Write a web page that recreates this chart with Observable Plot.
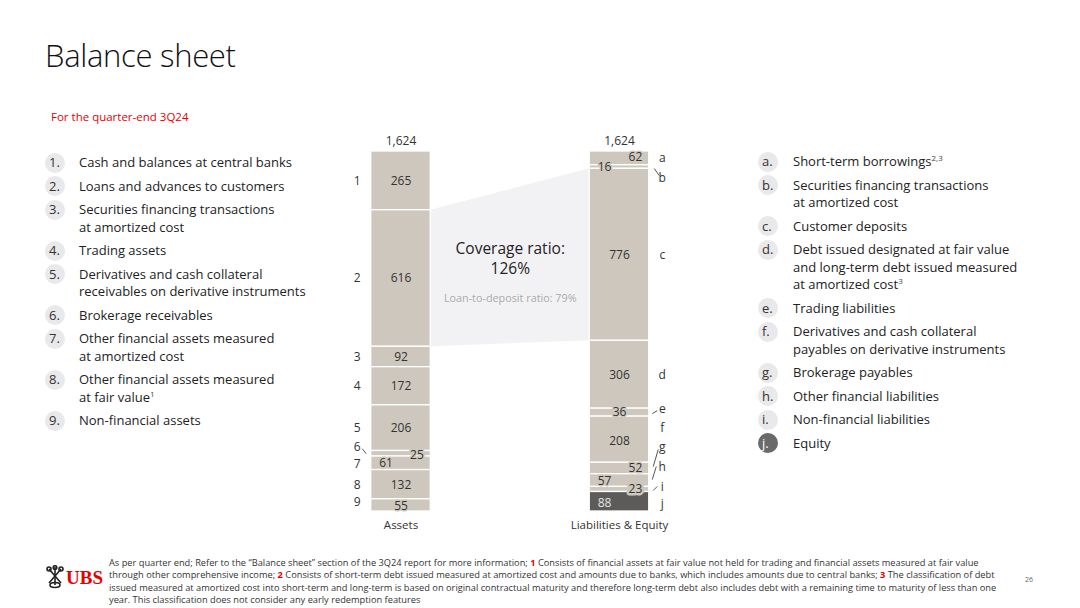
<!DOCTYPE html>
<html>
<head>
<meta charset="utf-8">
<script src="https://cdn.jsdelivr.net/npm/d3@7"></script>
<script src="https://cdn.jsdelivr.net/npm/@observablehq/plot@0.6"></script>
<style>
  html, body { margin: 0; padding: 0; background: #fff; }
  body { width: 1080px; height: 608px; position: relative; overflow: hidden; font-family: "Open Sans", "Noto Sans", sans-serif; color: #222; }
  #title { position: absolute; left: 45px; top: 34px; font-size: 31px; font-weight: 300; color: #111; letter-spacing: -0.3px; }
  #subtitle { position: absolute; left: 51px; top: 109px; font-size: 11.5px; color: #e60000; }
  #chart { position: absolute; left: 325px; top: 128px; }
  .legend { position: absolute; font-size: 13px; line-height: 17.5px; color: #222; }
  .legend .item { position: relative; padding-left: 0; margin-bottom: 6px; }
  .legend .badge { position: absolute; top: -1.5px; width: 20px; height: 20px; border-radius: 50%; background: #e9e8ea; }
  .legend .btxt { position: absolute; top: 0; color: #333; }
  .legend .badge.dark { background: #6a6a6a; }
  .legend .btxt.dark { color: #fff; }
  sup { font-size: 8px; line-height: 0; vertical-align: 5px; color: #444; }
  #footer { position: absolute; left: 109px; top: 557px; font-size: 9.28px; line-height: 12.4px; color: #333; white-space: nowrap; }
  #footer b { color: #e60000; }
  #logo { position: absolute; left: 45px; top: 565px; }
  #page { position: absolute; left: 1025px; top: 575px; font-size: 7px; color: #666; }
</style>
</head>
<body>
<div id="title">Balance sheet</div>
<div id="subtitle">For the quarter-end 3Q24</div>
<div id="legendLeft" class="legend"></div>
<div id="legendRight" class="legend"></div>
<div id="chart"></div>
<div id="logo"></div>
<div id="footer"></div>
<div id="page">26</div>
<script>
// ---------- data ----------
const assetIds = ["1", "2", "3", "4", "5", "6", "7", "8", "9"];
const assetValues = [265, 616, 92, 172, 206, 25, 61, 132, 55];
const assetNames = [
  ["Cash and balances at central banks"],
  ["Loans and advances to customers"],
  ["Securities financing transactions", "at amortized cost"],
  ["Trading assets"],
  ["Derivatives and cash collateral", "receivables on derivative instruments"],
  ["Brokerage receivables"],
  ["Other financial assets measured", "at amortized cost"],
  ["Other financial assets measured", "at fair value<sup>1</sup>"],
  ["Non-financial assets"]
];
const liabIds = ["a", "b", "c", "d", "e", "f", "g", "h", "i", "j"];
const liabValues = [62, 16, 776, 306, 36, 208, 52, 57, 23, 88];
const liabNames = [
  ["Short-term borrowings<sup>2,3</sup>"],
  ["Securities financing transactions", "at amortized cost"],
  ["Customer deposits"],
  ["Debt issued designated at fair value", "and long-term debt issued measured", "at amortized cost<sup>3</sup>"],
  ["Trading liabilities"],
  ["Derivatives and cash collateral", "payables on derivative instruments"],
  ["Brokerage payables"],
  ["Other financial liabilities"],
  ["Non-financial liabilities"],
  ["Equity"]
];
const columns = ["Assets", "Liabilities & Equity"];
const totalLabels = ["1,624", "1,624"];
const coverageTitle = "Coverage ratio:";
const coverageValue = "126%";
const loanToDeposit = "Loan-to-deposit ratio: 79%";
const loanItem = "2";      // loans (asset side) linked to
const depositItem = "c";   // customer deposits (liability side)
const equityItem = "j";

// ---------- styles / layout ----------
const barColor = "#cdc7bd";
const equityColor = "#5c5b59";
const areaColor = "#f2f2f5";
const textColor = "#333";
const W = 370, H = 412;
const colStepPx = 218.5, colCenterPx = 75.5, halfBarPx = 29.75;
const yTopPx = 23, yBotPx = 383;
const hw = halfBarPx / colStepPx;

// per-segment label tweaks (pixels)
const assetValAnchor = ["middle","middle","middle","middle","middle","end","start","middle","middle"];
const assetValDy = [0,0,0,0,0,1,0,0,1];
const assetIdDy = [0,0,0,0,0,-7,1,0,-3];
const liabValAnchor = ["end","start","middle","middle","middle","middle","end","start","end","start"];
const liabValDy = [-1,0,0,0,0,1,0,1,0,1];
const liabIdDy = [0,11,0,0,-3,-12,-21,-13,-2,2];
// leader ticks: [dx1, dy1, dx2, dy2] px relative to bar edge / segment middle
const assetLeaders = {"6": [-9, -5, -5, 0]};
const liabLeaders = {"b": [5, 1.5, 10, 8.5], "e": [3, 1, 8, -2], "g": [4, -2, 9, -19], "h": [3, -1, 7, -14], "i": [4, 1, 8, -3]};

// ---------- build segments ----------
const total = d3.sum(assetValues);
const pxX = colStepPx;                    // px per column unit
const pxY = (yBotPx - yTopPx) / total;    // px per value unit
const xDomain = [-colCenterPx / pxX, (W - colCenterPx) / pxX];

function stackSide(ids, values, col, anchors, valDy, idDy) {
  const ends = d3.cumsum(values);
  return ids.map((id, i) => {
    const mid = ends[i] - values[i] / 2;
    return {
      id, col, value: values[i],
      y1: ends[i] - values[i], y2: ends[i], mid,
      anchor: anchors[i], vy: mid + valDy[i] / pxY, iy: mid + idDy[i] / pxY
    };
  });
}
const assets = stackSide(assetIds, assetValues, 0, assetValAnchor, assetValDy, assetIdDy);
const liabs = stackSide(liabIds, liabValues, 1, liabValAnchor, liabValDy, liabIdDy);
const segs = assets.concat(liabs);

const loan = assets.find(d => d.id === loanItem);
const dep = liabs.find(d => d.id === depositItem);
const areaPts = [
  {x: 0 + hw, top: loan.y1, bottom: loan.y2},
  {x: 1 - hw, top: dep.y1, bottom: dep.y2}
];
const areaMid = (loan.y1 + dep.y1 + loan.y2 + dep.y2) / 4;

function leaderRows(side, defs, edgeSign) {
  return side.filter(d => defs[d.id]).map(d => {
    const [a, b, c, e] = defs[d.id];
    const edge = d.col + edgeSign * hw;
    return {x1: edge + a / pxX, y1: d.mid + b / pxY, x2: edge + c / pxX, y2: d.mid + e / pxY};
  });
}
const leaders = leaderRows(assets, assetLeaders, -1).concat(leaderRows(liabs, liabLeaders, 1));

const valX = d => d.anchor === "middle" ? d.col : d.anchor === "start" ? d.col - hw + 8 / pxX : d.col + hw - 7 / pxX;
const isEq = d => d.id === equityItem;
const fontFamily = "'Open Sans', 'Noto Sans', sans-serif";

function valText(anchor) {
  return Plot.text(segs.filter(d => d.anchor === anchor), {
    x: valX, y: "vy", text: d => String(d.value),
    textAnchor: anchor, fontSize: 12, fontFamily,
    fill: d => isEq(d) ? "#e4e4e4" : textColor,
    stroke: d => isEq(d) ? equityColor : barColor, strokeWidth: d => d.id === "i" ? 5 : 3, paintOrder: "stroke"
  });
}

const chart = Plot.plot({
  width: W, height: H,
  margin: 0,
  x: {domain: xDomain, range: [0, W], axis: null},
  y: {domain: [0, total], range: [yTopPx, yBotPx], axis: null},
  style: {fontFamily, background: "transparent", overflow: "visible"},
  marks: [
    Plot.areaY(areaPts, {x: "x", y1: "top", y2: "bottom", fill: areaColor, curve: "linear"}),
    Plot.rect(segs, {x1: d => d.col - hw, x2: d => d.col + hw, y1: "y1", y2: "y2",
      fill: d => isEq(d) ? equityColor : barColor, stroke: "#fff", strokeWidth: 1.3}),
    valText("middle"), valText("start"), valText("end"),
    // item ids
    Plot.text(assets, {x: d => d.col - hw, y: "iy", dx: -14, text: "id", fontSize: 12, fontFamily, fill: textColor}),
    Plot.text(liabs, {x: d => d.col + hw, y: "iy", dx: 13, text: "id", fontSize: 12, fontFamily, fill: textColor}),
    Plot.link(leaders, {x1: "x1", y1: "y1", x2: "x2", y2: "y2", stroke: "#444", strokeWidth: 0.9}),
    // totals and column labels
    Plot.text(columns, {x: (d, i) => i, y: 0, dy: -10, text: (d, i) => totalLabels[i], fontSize: 12, fontFamily, fill: textColor}),
    Plot.text(columns, {x: (d, i) => i, y: total, dy: 14, text: d => d, fontSize: 11.5, fontFamily, fill: textColor}),
    // coverage ratio
    Plot.text([coverageTitle], {x: 0.5, y: areaMid, dy: -18, text: d => d, fontSize: 15.5, fontFamily, fill: "#222"}),
    Plot.text([coverageValue], {x: 0.5, y: areaMid, dy: 2, text: d => d, fontSize: 15.5, fontFamily, fill: "#222"}),
    Plot.text([loanToDeposit], {x: 0.5, y: areaMid, dy: 32, text: d => d, fontSize: 10.8, fontFamily, fill: "#aaa"})
  ]
});
document.getElementById("chart").appendChild(chart);

// ---------- legends ----------
function buildLegend(el, ids, names, left, top, badgeCx, textX) {
  el.style.left = left + "px";
  el.style.top = top + "px";
  ids.forEach((id, i) => {
    const item = document.createElement("div");
    item.className = "item";
    item.style.paddingLeft = (textX - left) + "px";
    const dark = id === equityItem;
    item.innerHTML =
      `<span class="badge${dark ? " dark" : ""}" style="left:${badgeCx - left - 10}px"></span>` +
      `<span class="btxt${dark ? " dark" : ""}" style="left:${badgeCx - left - 6}px">${id}.</span>` +
      names[i].join("<br>");
    el.appendChild(item);
  });
}
buildLegend(document.getElementById("legendLeft"), assetIds, assetNames, 40, 154, 55, 79);
buildLegend(document.getElementById("legendRight"), liabIds, liabNames, 750, 153, 768, 793);

// ---------- footer ----------
const footerLines = [
  'As per quarter end; Refer to the “Balance sheet” section of the 3Q24 report for more information; <b>1</b> Consists of financial assets at fair value not held for trading and financial assets measured at fair value',
  'through other comprehensive income; <b>2</b> Consists of short-term debt issued measured at amortized cost and amounts due to banks, which includes amounts due to central banks; <b>3</b> The classification of debt',
  'issued measured at amortized cost into short-term and long-term is based on original contractual maturity and therefore long-term debt also includes debt with a remaining time to maturity of less than one',
  'year. This classification does not consider any early redemption features'
];
document.getElementById("footer").innerHTML = footerLines.join("<br>");

document.getElementById("logo").innerHTML =
  `<svg width="60" height="24" viewBox="0 0 60 24">
    <g stroke="#222" stroke-width="1.6" fill="none">
      <line x1="4" y1="4" x2="16" y2="18"/><line x1="16" y1="4" x2="4" y2="18"/><line x1="10" y1="2" x2="10" y2="20"/>
      <circle cx="4" cy="4" r="2"/><circle cx="16" cy="4" r="2"/><circle cx="10" cy="2.5" r="1.8"/>
      <ellipse cx="10" cy="20" rx="5" ry="2.5"/>
    </g>
    <text x="21" y="19" font-family="'Liberation Serif', serif" font-weight="bold" font-size="19" fill="#e60000">UBS</text>
  </svg>`;
</script>
</body>
</html>
